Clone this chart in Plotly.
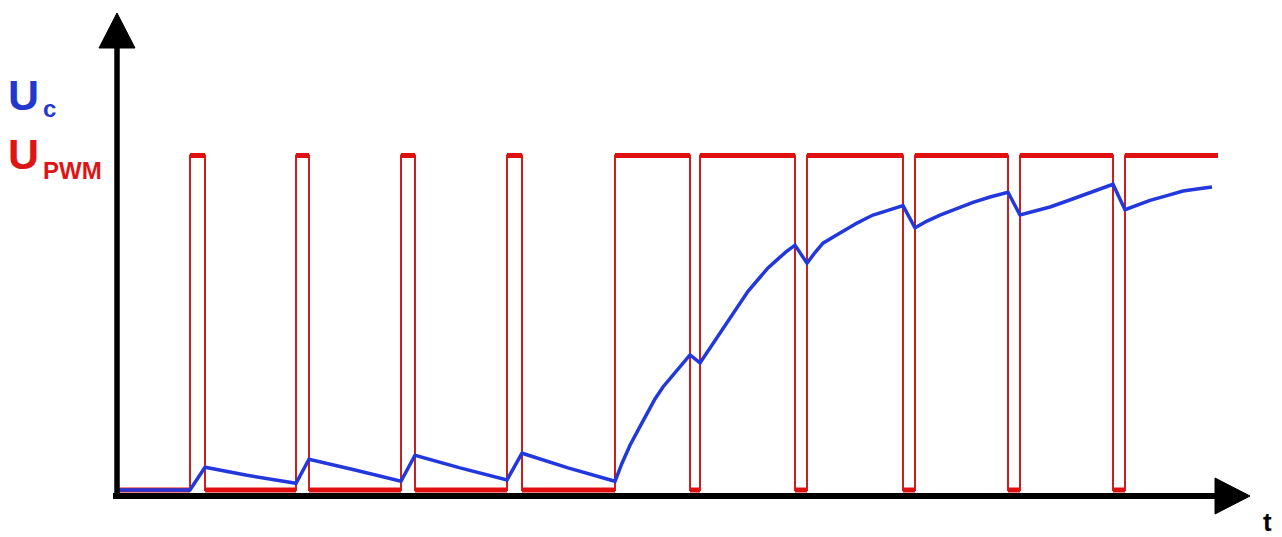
import plotly.graph_objects as go

W, H = 1282, 537

# ---------------- data ----------------
# PWM edges (time units)
pwm_rise = [7.3, 17.9, 28.4, 39.0, 49.8, 58.3, 69.0, 79.8, 90.3, 100.8]
pwm_fall = [8.8, 19.2, 29.8, 40.5, 57.3, 67.8, 78.6, 89.1, 99.6]
t_start, t_end = 0.0, 110.1
pwm_low, pwm_high = 0.0, 5.0

# Capacitor voltage Uc samples
uc_t = [0.0, 7.3, 8.8, 13.0, 17.9, 19.2, 23.8, 28.4, 29.8, 34.3, 39.0, 40.5, 45.1, 49.8,
        50.5, 51.3, 52.2, 53.0, 53.8, 54.6, 55.5, 56.3, 57.3, 58.3, 59.2, 60.0, 61.0, 62.0,
        63.1, 64.3, 65.1, 66.0, 66.9, 67.8,
        69.0, 69.8, 70.6, 71.5, 72.3, 73.1, 74.0, 74.8, 75.6, 77.1, 78.6, 79.8, 81.0, 82.3,
        84.0, 85.6, 87.3, 89.1,
        90.3, 91.8, 93.3, 95.0, 96.6, 98.1, 99.6, 100.8, 102.0, 103.3, 105.0, 106.6, 108.0, 109.5]
uc_v = [0.0, 0.0, 0.34, 0.22, 0.10, 0.46, 0.30, 0.13, 0.52, 0.33, 0.15, 0.55, 0.33, 0.13,
        0.40, 0.67, 0.92, 1.15, 1.36, 1.54, 1.70, 1.84, 2.02, 1.90, 2.10, 2.29, 2.52, 2.74,
        2.97, 3.18, 3.32, 3.44, 3.56, 3.66,
        3.39, 3.55, 3.69, 3.77, 3.84, 3.92, 3.99, 4.05, 4.11, 4.18, 4.25, 3.92, 4.02, 4.11,
        4.21, 4.30, 4.38, 4.45,
        4.11, 4.17, 4.23, 4.32, 4.41, 4.49, 4.57, 4.19, 4.26, 4.33, 4.40, 4.47, 4.50, 4.53]

# ---------------- build PWM path ----------------
edges = sorted([(t, 'r') for t in pwm_rise] + [(t, 'f') for t in pwm_fall])
px_, py_ = [t_start], [pwm_low]
level = pwm_low
hx, hy = [t_start], [pwm_low]
for t, kind in edges:
    new = pwm_high if kind == 'r' else pwm_low
    px_ += [t, t]
    py_ += [level, new]
    hx += [t, None, t]
    hy += [level, None, new]
    level = new
px_.append(t_end)
py_.append(level)
hx.append(t_end)
hy.append(level)

fig = go.Figure()
fig.add_trace(go.Scatter(x=px_, y=py_, mode='lines',
                         line=dict(color='#c82020', width=2), hoverinfo='skip'))
fig.add_trace(go.Scatter(x=hx, y=hy, mode='lines',
                         line=dict(color='#e01010', width=5), hoverinfo='skip'))
fig.add_trace(go.Scatter(x=uc_t, y=uc_v, mode='lines',
                         line=dict(color='#2238dd', width=3.5), hoverinfo='skip'))

# ---------------- layout ----------------
def X(p):
    return p / W

def Y(p):
    return 1 - p / H

shapes = [
    dict(type='line', xref='paper', yref='paper', x0=X(117), x1=X(117), y0=Y(498), y1=Y(45),
         line=dict(color='black', width=5.5)),
    dict(type='line', xref='paper', yref='paper', x0=X(113), x1=X(1218), y0=Y(496), y1=Y(496),
         line=dict(color='black', width=6)),
    dict(type='path', xref='paper', yref='paper',
         path=f"M {X(117)} {Y(13)} L {X(99)} {Y(48)} L {X(135)} {Y(48)} Z",
         fillcolor='black', line=dict(color='black', width=1)),
    dict(type='path', xref='paper', yref='paper',
         path=f"M {X(1250)} {Y(496)} L {X(1215)} {Y(478)} L {X(1215)} {Y(514)} Z",
         fillcolor='black', line=dict(color='black', width=1)),
]

font_b = "Liberation Sans, Arial, sans-serif"
annotations = [
    dict(text="<b>U</b>", x=X(6), y=Y(95), xref='paper', yref='paper', xanchor='left', yanchor='middle',
         showarrow=False, font=dict(family=font_b, size=43, color='#2238cc')),
    dict(text="<b>c</b>", x=X(41), y=Y(108), xref='paper', yref='paper', xanchor='left', yanchor='middle',
         showarrow=False, font=dict(family=font_b, size=24, color='#2238cc')),
    dict(text="<b>U</b>", x=X(6), y=Y(154), xref='paper', yref='paper', xanchor='left', yanchor='middle',
         showarrow=False, font=dict(family=font_b, size=43, color='#dd1515')),
    dict(text="<b>PWM</b>", x=X(41), y=Y(170), xref='paper', yref='paper', xanchor='left', yanchor='middle',
         showarrow=False, font=dict(family=font_b, size=24, color='#dd1515')),
    dict(text="<b>t</b>", x=X(1267), y=Y(522), xref='paper', yref='paper', xanchor='center', yanchor='middle',
         showarrow=False, font=dict(family=font_b, size=26, color='black')),
]

x0 = -11.7
y_scale = 66.9
fig.update_layout(
    width=W, height=H,
    margin=dict(l=0, r=0, t=0, b=0),
    paper_bgcolor='white', plot_bgcolor='white',
    showlegend=False,
    xaxis=dict(range=[x0, x0 + W / 10], visible=False, fixedrange=True),
    yaxis=dict(range=[(490 - H) / y_scale, 490 / y_scale], visible=False, fixedrange=True),
    shapes=shapes,
    annotations=annotations,
)

fig.write_html("out.html", config={'displayModeBar': False},
               post_script="document.body.style.margin='0';document.body.style.overflow='hidden';")
